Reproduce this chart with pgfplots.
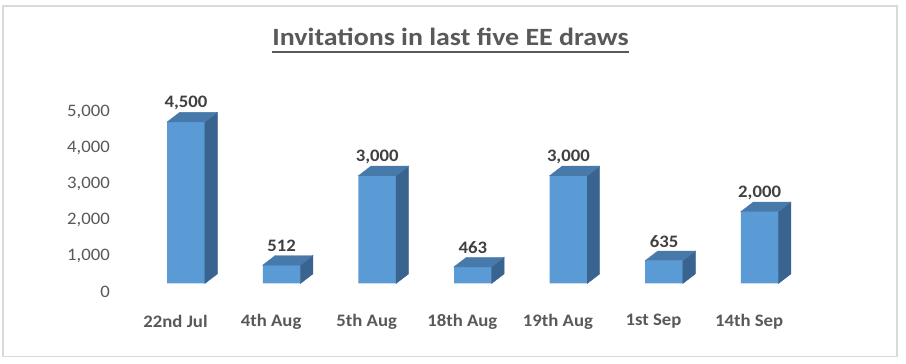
\documentclass[border=0pt]{standalone}
\usepackage{graphicx}
\usepackage{pgfplots}
\pgfplotsset{compat=1.18}
\usepackage{fontspec}
\setmainfont{Carlito}
\definecolor{frontc}{RGB}{91,155,213}
\definecolor{sidec}{RGB}{58,100,144}
\definecolor{topc}{RGB}{71,121,171}
\definecolor{txt}{RGB}{89,89,89}
\definecolor{dtxt}{RGB}{64,64,64}
\definecolor{frame}{RGB}{217,217,217}
\newcommand\sx[1]{\scalebox{1.07}[1]{#1}}
\pgfdeclareplotmark{empty3d}{}
\begin{document}
\begin{tikzpicture}[x=1pt,y=1pt]
\useasboundingbox (0,0) rectangle (906,364);
\fill[white] (0,0) rectangle (906,364);
\draw[frame, line width=1.6pt] (2.8,7.5) rectangle (897,358);
\node[anchor=base, inner sep=0pt, text=txt, font=\fontsize{24.8}{28}\selectfont\bfseries] (t) at (450.5,318) {\scalebox{1.125}[1]{Invitations in last five EE draws}};
\draw[txt, line width=2pt] ([yshift=-6pt]t.base west) -- ([yshift=-6pt]t.base east);
\begin{axis}[
  at={(119.08pt,80.5pt)}, anchor=south west,
  x=95.6pt, y=0.0359pt,
  xmin=-0.7, xmax=6.9, ymin=0, ymax=5000,
  clip=false,
  axis line style={draw=none},
  tick style={draw=none},
  xtick=data,
  xticklabels={\sx{22nd Jul},\sx{4th Aug},\sx{5th Aug},\sx{18th Aug},\sx{19th Aug},\sx{1st Sep},\sx{14th Sep}},
  xticklabel style={anchor=center, inner sep=0pt, yshift=-38pt, xshift=-10.5pt,
    font=\fontsize{17.5}{20}\selectfont\bfseries, text=txt},
  ytick={0,1000,2000,3000,4000,5000},
  yticklabel={\sx{\pgfmathprintnumber{\tick}}},
  yticklabel style={anchor=east, inner sep=0pt, xshift=-9pt, yshift=-8pt,
    font=\fontsize{17.5}{20}\selectfont, text=txt},
  /pgf/number format/.cd, 1000 sep={,}, assume math mode=true,
]
\addplot[ybar, bar width=37.6pt, fill=frontc, draw=none,
  nodes near coords={\sx{\pgfmathprintnumber{\pgfplotspointmeta}}},
  every node near coord/.append style={anchor=center, yshift=19pt,
    font=\fontsize{17.5}{20}\selectfont\bfseries, text=dtxt}]
  coordinates {(0,4500) (1,512) (2,3000) (3,463) (4,3000) (5,635) (6,2000)};
\addplot[scatter, only marks, mark=empty3d,
  visualization depends on={rawy \as \ry},
  scatter/@pre marker code/.code={%
    \begingroup
    \pgfkeys{/pgf/fpu=false}%
    \pgfmathsetmacro\hh{-\ry*0.0359}%
    \pgfmathsetmacro\hb{9.6-\ry*0.0359}%
    \fill[sidec] (18.8pt,0pt) -- (31.3pt,9.6pt) -- (31.3pt,\hb pt) -- (18.8pt,\hh pt) -- cycle;
    \fill[topc] (-18.8pt,0pt) -- (18.8pt,0pt) -- (31.3pt,9.6pt) -- (-6.3pt,9.6pt) -- cycle;
    \endgroup
  },
  scatter/@post marker code/.code={}]
  coordinates {(0,4500) (1,512) (2,3000) (3,463) (4,3000) (5,635) (6,2000)};
\end{axis}
\end{tikzpicture}
\end{document}
